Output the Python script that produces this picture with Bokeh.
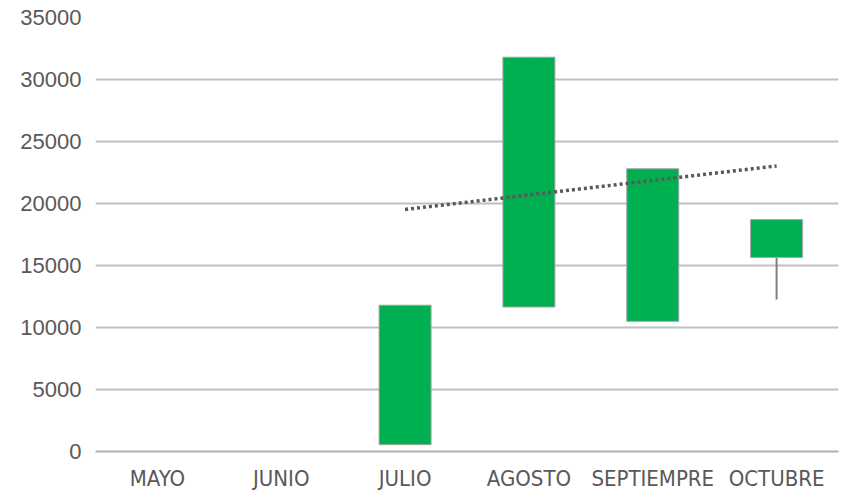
import numpy as np
from bokeh.plotting import figure
from bokeh.models import FactorRange, Range1d, ColumnDataSource
from bokeh.embed import file_html
from bokeh.resources import INLINE

months = ["MAYO", "JUNIO", "JULIO", "AGOSTO", "SEPTIEMPRE", "OCTUBRE"]
open_ = [np.nan, np.nan, 550, 11650, 10500, 15650]
close_ = [np.nan, np.nan, 11800, 31800, 22800, 18700]
high = [np.nan, np.nan, 11800, 31800, 22800, 18700]
low = [np.nan, np.nan, 550, 11650, 10500, 12250]
y_ticks = [0, 5000, 10000, 15000, 20000, 25000, 30000, 35000]

o = np.array(open_, dtype=float)
c = np.array(close_, dtype=float)
h = np.array(high, dtype=float)
l = np.array(low, dtype=float)
valid = ~np.isnan(c)
vm = [m for m, v in zip(months, valid) if v]

src = ColumnDataSource(dict(
    x=vm,
    top=np.maximum(o, c)[valid],
    bottom=np.minimum(o, c)[valid],
    high=h[valid],
    low=l[valid],
))

# linear trend of close values
idx = np.arange(len(months))[valid]
slope, intercept = np.polyfit(idx, c[valid], 1)
trend_x = [months[idx[0]], months[idx[-1]]]
trend_y = [intercept + slope * idx[0], intercept + slope * idx[-1]]

p = figure(width=842, height=493, x_range=FactorRange(*months, range_padding=0),
           y_range=Range1d(0, 35000), output_backend="svg", toolbar_location=None,
           min_border_left=95, min_border_right=4, min_border_top=17, min_border_bottom=40)
p.outline_line_color = None
p.background_fill_color = "white"
p.border_fill_color = "white"

p.segment(x0="x", y0="high", x1="x", y1="low", source=src, line_color="#7f7f7f", line_width=2)
p.vbar(x="x", top="top", bottom="bottom", width=0.42, source=src,
       fill_color="#00b050", line_color="#a6a6a6", line_width=1)
p.line(trend_x, trend_y, line_color="#595959", line_width=3.5, line_dash="3 3")

p.yaxis.ticker = y_ticks
p.yaxis.axis_line_color = None
p.yaxis.major_tick_line_color = None
p.yaxis.minor_tick_line_color = None
p.yaxis.major_label_standoff = 8
p.yaxis.major_label_text_font = "Liberation Sans"
p.yaxis.major_label_text_font_size = "22px"
p.yaxis.major_label_text_color = "#595959"

p.xaxis.axis_line_color = "#b0b0b0"
p.xaxis.axis_line_width = 2
p.xaxis.major_tick_line_color = None
p.xaxis.minor_tick_line_color = None
p.xaxis.major_label_standoff = 8
p.xaxis.major_label_text_font = "DejaVu Sans Condensed"
p.xaxis.major_label_text_font_size = "22px"
p.xaxis.major_label_text_color = "#595959"

p.xgrid.grid_line_color = None
p.ygrid.grid_line_color = "#c0c0c0"
p.ygrid.grid_line_width = 2

open("out.html", "w").write(file_html(p, INLINE))
